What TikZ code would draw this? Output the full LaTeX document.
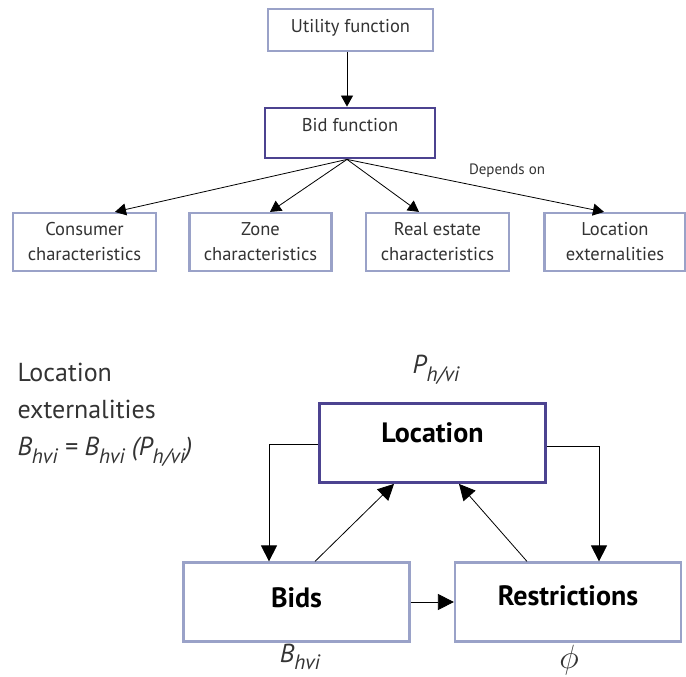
\documentclass[tikz,border=0pt]{standalone}
\usepackage{fontspec}
\setmainfont{PT Sans}
\usetikzlibrary{arrows.meta}
\definecolor{lightbd}{HTML}{9AA2C8}
\definecolor{darkbd}{HTML}{4C4390}
\definecolor{txt}{HTML}{333333}
\newcommand\lowsub[1]{\raisebox{-0.3em}{\scalebox{0.8}{#1}}}
\begin{document}
\begin{tikzpicture}[x=1pt,y=-1pt,
  lbox/.style={draw=lightbd,line width=2.2pt,fill=white,text=txt,align=center,inner sep=0pt},
  dbox/.style={draw=darkbd,line width=2.8pt,fill=white,text=txt,align=center,inner sep=0pt},
  arr/.style={draw=black,line width=0.8pt,-{Triangle[length=11pt,width=12pt]}},
  barr/.style={draw=black,line width=0.8pt,-{Triangle[length=16pt,width=16pt]}},
  top/.style={font=\fontsize{18.5}{25}\selectfont},
  big/.style={font=\fontsize{28}{30}\selectfont\bfseries,text=black}]
\useasboundingbox (0,0) rectangle (686,677);
% top part
\node[lbox,top,minimum width=165pt,minimum height=42pt,text depth=8pt] (util) at (350.5,30) {Utility function};
\node[dbox,top,minimum width=170pt,minimum height=50pt,text depth=16pt] (bid) at (350,133) {Bid function};
\node[lbox,top,minimum width=143pt,minimum height=58pt] (cons) at (84.5,242) {Consumer\\characteristics};
\node[lbox,top,minimum width=142pt,minimum height=58pt] (zone) at (260.5,242) {Zone\\characteristics};
\node[lbox,top,minimum width=143pt,minimum height=58pt] (real) at (437.5,242) {Real estate\\characteristics};
\node[lbox,top,minimum width=141pt,minimum height=58pt] (lext) at (615,242) {Location\\externalities};
\node[text=txt,font=\fontsize{15}{17}\selectfont] (dep) at (507,171) {Depends on};
\draw[arr] ([xshift=-3.5pt]util.south) -- ([xshift=-3pt]bid.north);
\draw[arr] ([xshift=-3pt]bid.south) -- ([xshift=30.5pt]cons.north);
\draw[arr] ([xshift=-3pt]bid.south) -- ([xshift=9.5pt]zone.north);
\draw[arr] ([xshift=-3pt]bid.south) -- ([xshift=-18.5pt]real.north);
\draw[arr] ([xshift=-3pt]bid.south) -- ([xshift=-11pt]lext.north);
% bottom part
\node[dbox,big,minimum width=226pt,minimum height=79pt,text depth=20pt] (loc) at (432.5,443) {Location};
\node[lbox,big,minimum width=226pt,minimum height=79pt,text depth=8pt] (bids) at (296.5,602) {Bids};
\node[lbox,big,minimum width=226pt,minimum height=79pt,text depth=13pt] (res) at (568,602) {Restrictions};
\node[text=txt,font=\fontsize{26}{37}\selectfont,align=left,anchor=north west] (ext) at (14,360)
  {Location\\externalities\\\itshape B\lowsub{hvi}\;=\;B\lowsub{hvi}\;(P\lowsub{h/vi})};
\node[text=txt,font=\fontsize{26}{28}\selectfont\itshape] (plab) at (436,370) {P\lowsub{h/vi}};
\node[text=txt,font=\fontsize{26}{28}\selectfont\itshape] (blab) at (300,657) {B\lowsub{hvi}};
\node[text=txt,font=\fontsize{26}{28}\selectfont] (flab) at (569,660) {\scalebox{1.35}{$\phi$}};
\draw[barr] ([yshift=-1pt]loc.west) -| ([xshift=-27.5pt]bids.north);
\draw[barr] ([yshift=-3pt]loc.east) -| ([xshift=31pt]res.north);
\draw[barr] ([xshift=18.5pt]bids.north) -- ([xshift=-38.5pt]loc.south);
\draw[barr] ([xshift=-41pt]res.north) -- ([xshift=26.5pt]loc.south);
\draw[barr] (bids.east) -- (res.west);
\end{tikzpicture}
\end{document}
